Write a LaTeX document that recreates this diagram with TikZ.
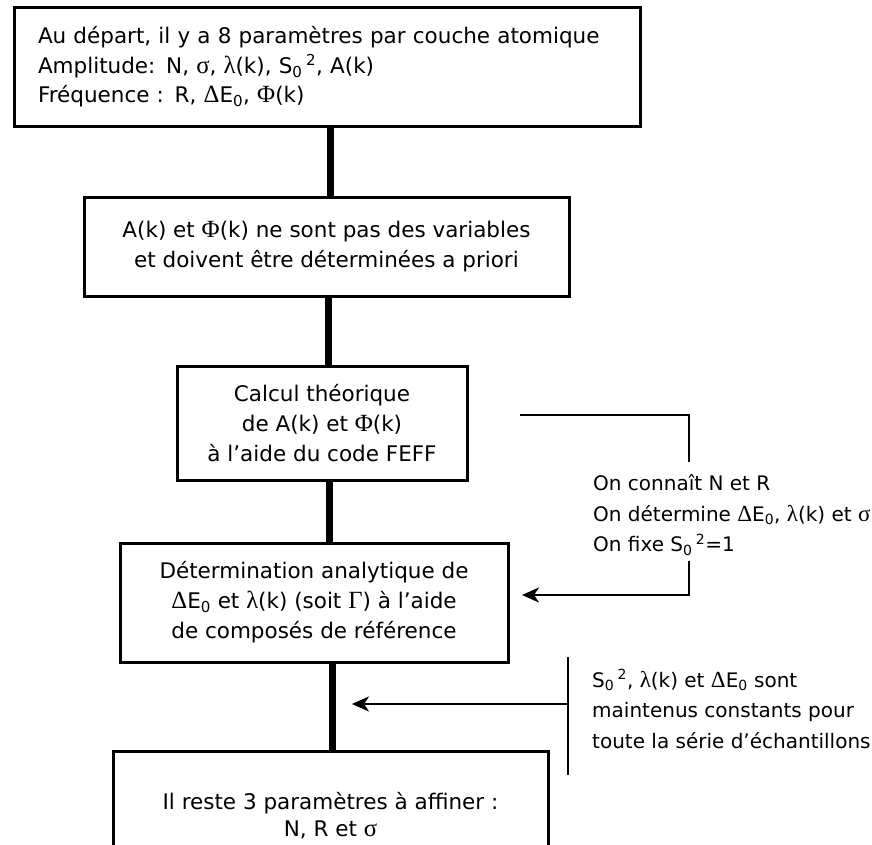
\documentclass[tikz,border=0pt]{standalone}
\usepackage{fontspec}
\setmainfont{DejaVu Sans}
\newfontfamily\gr[Scale=1.15]{Liberation Serif}
\usetikzlibrary{arrows.meta}
\newcommand{\Szz}{S\textsubscript{0}\,\textsuperscript{2}}
\newcommand{\dEz}{{\gr Δ}E\textsubscript{0}}
\newcommand{\grl}{{\gr λ}}
\newcommand{\grs}{{\gr σ}}
\newcommand{\grF}{{\gr Φ}}
\begin{document}
\begin{tikzpicture}[x=1pt,y=-1pt,
  every node/.style={font=\fontsize{21.5}{30}\selectfont},
  box/.style={draw, line width=3pt, inner sep=0pt, align=center},
  conn/.style={line width=7pt},
  brk/.style={line width=2.5pt},
  arr/.style={line width=2.5pt, -{Stealth[length=17pt,width=15pt,inset=5pt]}},
  note/.style={anchor=west, align=left, inner sep=0pt, font=\fontsize{20}{30.5}\selectfont}]
\useasboundingbox (0,0) rectangle (872,845);
\clip (0,0) rectangle (872,845);
\node[box, align=left, text width=578pt, inner xsep=24pt, minimum height=119pt,
      font=\fontsize{21.5}{29.5}\selectfont] (b1) at (327,67)
  {Au départ, il y a 8 paramètres par couche atomique\\
   Amplitude: N, \grs, \grl(k), \Szz, A(k)\\
   Fréquence : R, \dEz, \grF(k)};
\node[box, minimum width=485pt, minimum height=99pt] (b2) at (326.5,246.5)
  {A(k) et \grF(k) ne sont pas des variables\\et doivent être déterminées a priori};
\node[box, minimum width=290pt, minimum height=114pt] (b3) at (322,423)
  {Calcul théorique\\de A(k) et \grF(k)\\à l’aide du code FEFF};
\node[box, minimum width=388pt, minimum height=119pt] (b4) at (314,602.5)
  {Détermination analytique de\\\dEz{} et \grl(k) (soit {\gr Γ}) à l’aide\\de composés de référence};
\node[box, minimum width=435pt, minimum height=130pt,
      font=\fontsize{21.5}{27}\selectfont] (b5) at (330.5,816)
  {Il reste 3 paramètres à affiner :\\N, R et \grs};
\coordinate (k1) at (330,0);
\coordinate (k2) at (328,0);
\coordinate (k3) at (329,0);
\coordinate (k4) at (332,0);
\draw[conn] (b1.south -| k1) -- (b2.north -| k1);
\draw[conn] (b2.south -| k2) -- (b3.north -| k2);
\draw[conn] (b3.south -| k3) -- (b4.north -| k3);
\draw[conn] (b4.south -| k4) -- (b5.north -| k4);
% first bracket
\coordinate (p1) at (520,415);
\coordinate (p2) at (689,415);
\coordinate (p3) at (689,462);
\coordinate (p4) at (689,561);
\coordinate (p5) at (689,595);
\coordinate (p6) at (522,595);
\draw[brk] (p1) -- (p2) -- (p3);
\draw[arr] (p4) -- (p5) -- (p6);
\node[note] (n1) at (593,515)
  {On connaît N et R\\On détermine \dEz, \grl(k) et \grs\\On fixe \Szz=1};
% second bracket
\coordinate (q1) at (568,657);
\coordinate (q2) at (568,775);
\coordinate (q3) at (568,704);
\coordinate (q4) at (352,704);
\draw[brk] (q1) -- (q2);
\draw[arr] (q3) -- (q4);
\node[note] (n2) at (592,709)
  {\Szz, \grl(k) et \dEz{} sont\\maintenus constants pour\\toute la série d’échantillons};
\end{tikzpicture}
\end{document}
